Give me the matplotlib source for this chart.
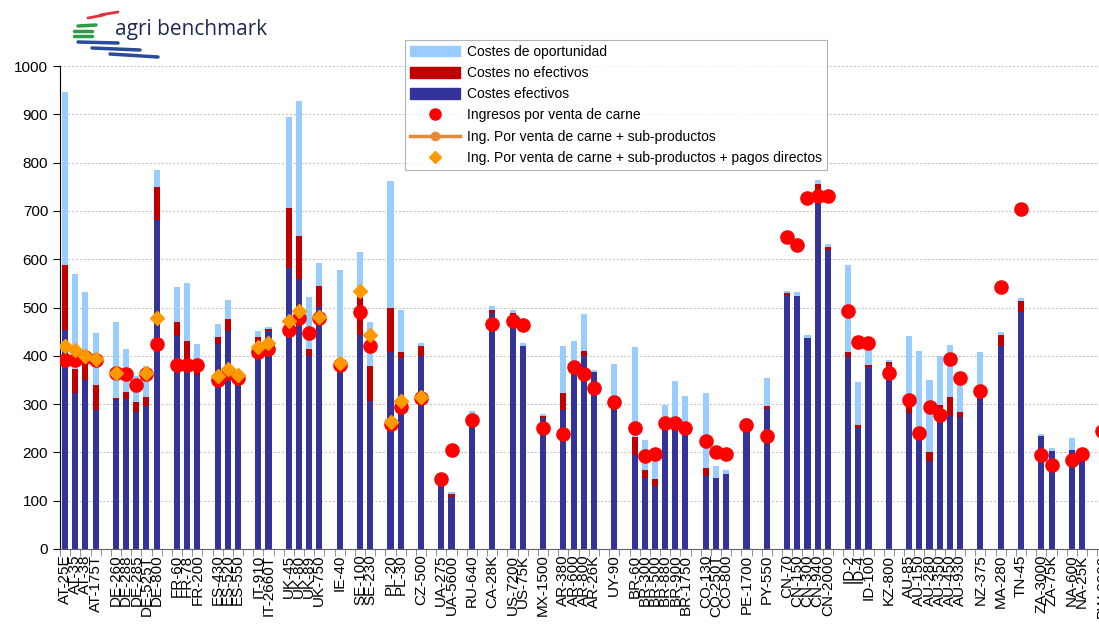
import numpy as np
import matplotlib
matplotlib.use('Agg')
import matplotlib.pyplot as plt
from matplotlib.lines import Line2D
from matplotlib.patches import Patch

plt.rcParams['font.family'] = ['Liberation Sans', 'DejaVu Sans']

nan = np.nan

# categories ('' = empty slot between countries)
labels = ['AT-25E', 'AT-35', 'AT-38', 'AT-175T', '',
          'DE-260', 'DE-288', 'DE-285', 'DE-525T', 'DE-800', '',
          'FR-60', 'FR-78', 'FR-200', '',
          'ES-430', 'ES-520', 'ES-550', '',
          'IT-910', 'IT-2660T', '',
          'UK-45', 'UK-80', 'UK-89', 'UK-750', '',
          'IE-40', '',
          'SE-100', 'SE-230', '',
          'PL-20', 'PL-30', '',
          'CZ-500', '',
          'UA-275', 'UA-5600', '',
          'RU-640', '',
          'CA-28K', '',
          'US-7200', 'US-75K', '',
          'MX-1500', '',
          'AR-380', 'AR-600', 'AR-800', 'AR-26K', '',
          'UY-90', '',
          'BR-60', 'BR-300', 'BR-500', 'BR-880', 'BR-900', 'BR-1750', '',
          'CO-130', 'CO-250T', 'CO-800', '',
          'PE-1700', '',
          'PY-550', '',
          'CN-70', 'CN-150', 'CN-300', 'CN-940', 'CN-2000', '',
          'ID-2', 'ID-4', 'ID-100', '',
          'KZ-800', '',
          'AU-85', 'AU-150', 'AU-280', 'AU-350', 'AU-450', 'AU-930', '',
          'NZ-375', '',
          'MA-280', '',
          'TN-45', '',
          'ZA-3000', 'ZA-75K', '',
          'NA-600', 'NA-25K', '',
          'BW-2000']

costes_efectivos = [453, 323, 350, 288, nan,
                    308, 310, 283, 297, 681, nan,
                    442, 366, 360, nan,
                    424, 452, 350, nan,
                    419, 452, nan,
                    581, 558, 400, 502, nan,
                    370, nan,
                    443, 306, nan,
                    408, 395, nan,
                    400, nan,
                    137, 108, nan,
                    271, nan,
                    489, nan,
                    482, 420, nan,
                    271, nan,
                    288, 366, 400, 366, nan,
                    298, nan,
                    195, 147, 130, 263, 257, 248, nan,
                    151, 147, 155, nan,
                    267, nan,
                    290, nan,
                    526, 524, 437, 739, 619, nan,
                    398, 251, 377, nan,
                    360, nan,
                    282, 226, 182, 284, 275, 273, nan,
                    317, nan,
                    420, nan,
                    491, nan,
                    234, 203, nan,
                    205, 199, nan,
                    240]

costes_no_efectivos = [135, 49, 45, 52, nan,
                       4, 15, 22, 18, 69, nan,
                       29, 65, 31, nan,
                       14, 24, 10, nan,
                       19, 3, nan,
                       126, 90, 14, 43, nan,
                       15, nan,
                       79, 73, nan,
                       91, 13, nan,
                       20, nan,
                       0, 6, nan,
                       7, nan,
                       6, nan,
                       7, 0, nan,
                       4, nan,
                       35, 15, 10, 0, nan,
                       0, nan,
                       37, 17, 15, 0, 0, 0, nan,
                       17, 0, 0, nan,
                       0, nan,
                       6, nan,
                       4, 0, 0, 17, 6, nan,
                       10, 6, 4, nan,
                       27, nan,
                       16, 10, 19, 14, 40, 11, nan,
                       0, nan,
                       23, nan,
                       22, nan,
                       0, 0, nan,
                       0, 0, nan,
                       0]

costes_oportunidad = [359, 197, 138, 107, nan,
                      157, 90, 53, 63, 35, nan,
                      71, 119, 33, nan,
                      28, 39, 5, nan,
                      14, 5, nan,
                      187, 280, 107, 48, nan,
                      193, nan,
                      93, 91, nan,
                      263, 87, nan,
                      6, nan,
                      0, 4, nan,
                      8, nan,
                      8, nan,
                      6, 6, nan,
                      5, nan,
                      97, 50, 77, 5, nan,
                      85, nan,
                      186, 62, 50, 35, 91, 69, nan,
                      155, 25, 9, nan,
                      4, nan,
                      58, nan,
                      4, 8, 6, 8, 6, nan,
                      180, 89, 47, nan,
                      4, nan,
                      143, 174, 149, 102, 107, 74, nan,
                      91, nan,
                      6, nan,
                      7, nan,
                      4, 6, nan,
                      25, 8, nan,
                      0]

ingresos_carne = [391, 391, 397, 391, nan,
                  364, 362, 340, 362, 424, nan,
                  380, 380, 380, nan,
                  350, 364, 355, nan,
                  408, 415, nan,
                  453, 478, 448, 479, nan,
                  381, nan,
                  490, 420, nan,
                  259, 294, nan,
                  313, nan,
                  145, 205, nan,
                  267, nan,
                  466, nan,
                  472, 464, nan,
                  251, nan,
                  238, 377, 362, 333, nan,
                  304, nan,
                  251, 193, 197, 261, 261, 251, nan,
                  224, 201, 197, nan,
                  257, nan,
                  234, nan,
                  646, 629, 727, 731, 731, nan,
                  493, 429, 427, nan,
                  364, nan,
                  308, 240, 294, 277, 393, 354, nan,
                  327, nan,
                  542, nan,
                  704, nan,
                  195, 174, nan,
                  184, 197, nan,
                  244]

ingresos_pagos = [421, 413, 400, 393, nan,
                  365, nan, nan, 365, 478, nan,
                  nan, nan, nan, nan,
                  358, 372, 360, nan,
                  419, 426, nan,
                  473, 493, nan, 481, nan,
                  386, nan,
                  534, 443, nan,
                  262, 306, nan,
                  315, nan] + [nan] * 66

x = np.arange(len(labels))
eff = np.array(costes_efectivos, dtype=float)
noef = np.array(costes_no_efectivos, dtype=float)
opp = np.array(costes_oportunidad, dtype=float)

fig = plt.figure(figsize=(10.99, 6.25), dpi=100)
ax = fig.add_axes([60 / 1099, 1 - 549 / 625, 10.16 * 104 / 1099, 483 / 625])

# stacked cost bars
ax.bar(x, eff, width=0.6, color='#333399', zorder=2)
ax.bar(x, noef, width=0.6, bottom=eff, color='#C00000', zorder=2)
ax.bar(x, opp, width=0.6, bottom=eff + noef, color='#99CCFF', zorder=2)

# revenue markers
ax.plot(x, ingresos_carne, 'o', color='#FF0000', markersize=9.5, zorder=3)
ax.plot(x, ingresos_pagos, 'D', color='#FF9900', markersize=7, zorder=4)

ax.set_xlim(-0.5, len(labels) - 0.5 + 0.9)
ax.set_ylim(0, 1000)
ax.set_yticks(range(0, 1001, 100))
ax.yaxis.grid(True, color='#bfbfbf', linestyle=(0, (2, 2)), linewidth=0.7)
ax.set_axisbelow(True)

ax.set_xticks(x)
ax.set_xticklabels(labels, rotation=90, fontsize=11, ha='center', va='top')
ax.set_xticks(np.arange(-0.5, len(labels) + 0.5, 1), minor=True)
ax.tick_params(axis='x', which='major', length=0, pad=4)
ax.tick_params(axis='x', which='minor', length=5, color='#808080')
ax.tick_params(axis='y', labelsize=11, length=5, direction='out')

for s in ['top', 'right']:
    ax.spines[s].set_visible(False)
ax.spines['left'].set_color('black')
ax.spines['bottom'].set_color('#606060')

# legend
handles = [Patch(color='#99CCFF'), Patch(color='#C00000'), Patch(color='#333399'),
           Line2D([], [], marker='o', linestyle='none', color='#FF0000', markersize=8),
           Line2D([], [], marker='o', color='#E8893A', linewidth=2.5, markersize=6),
           Line2D([], [], marker='D', linestyle='none', color='#FF9900', markersize=6)]
names = ['Costes de oportunidad', 'Costes no efectivos', 'Costes efectivos',
         'Ingresos por venta de carne',
         'Ing. Por venta de carne + sub-productos',
         'Ing. Por venta de carne + sub-productos + pagos directos']
leg = fig.legend(handles, names, loc='upper left', bbox_to_anchor=(398 / 1099, 1 - 33 / 625),
                 fontsize=10, frameon=True, fancybox=False, edgecolor='#a0a0a0',
                 handlelength=3.6, handleheight=0.8, labelspacing=0.52,
                 borderpad=0.35, handletextpad=0.5)
leg.get_frame().set_linewidth(0.8)

# logo
def px(xp, yp):
    return xp / 1099, 1 - yp / 625

for (x0, y0, x1, y1, c, lw) in [(100, 15, 118, 12, '#e0303a', 2.0),
                                 (88, 18, 104, 15, '#e0303a', 2.0),
                                 (78, 26, 96, 25, '#2e9a48', 2.5),
                                 (74, 31, 92, 31, '#2e9a48', 2.5),
                                 (74, 36, 92, 36, '#2e9a48', 2.5),
                                 (78, 42, 118, 43, '#2a4a9a', 2.5),
                                 (92, 48, 140, 50, '#2a4a9a', 2.5),
                                 (110, 54, 158, 57, '#2a4a9a', 2.5)]:
    a, b = px(x0, y0)
    c2, d = px(x1, y1)
    fig.add_artist(Line2D([a, c2], [b, d], color=c, linewidth=lw, solid_capstyle='round'))
fig.text(115 / 1099, 1 - 29 / 625, 'agri benchmark', fontsize=15, color='#1d2b50',
         family=['Open Sans', 'DejaVu Sans'], va='center', ha='left')

fig.savefig('out.png', dpi=100)
